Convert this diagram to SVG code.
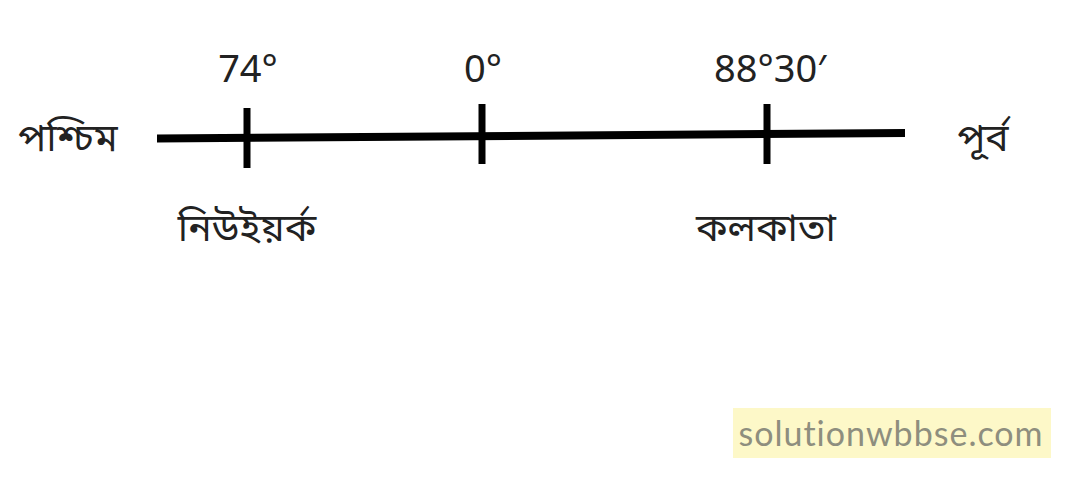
<svg xmlns="http://www.w3.org/2000/svg" width="1070" height="482" viewBox="0 0 1070 482">
<style>
.lbl{font-family:"Noto Sans","Open Sans","Liberation Sans",sans-serif;font-size:38px;fill:#222;text-anchor:middle}
.bn{font-family:"Noto Sans Bengali","Noto Serif Bengali","Lohit Bengali","Noto Sans",sans-serif;font-size:39px;fill:#222;text-anchor:middle}
.tick{stroke:#000;stroke-width:7}
</style>
<rect width="1070" height="482" fill="#fff"/>
<g id="connectors">
<line x1="157" y1="138.5" x2="905" y2="133" stroke="#000" stroke-width="8"/>
<line class="tick" x1="247" y1="108" x2="247" y2="168"/>
<line class="tick" x1="482" y1="104" x2="482" y2="164"/>
<line class="tick" x1="767" y1="104" x2="767" y2="164"/>
</g>
<g id="west"><text class="bn" x="68" y="151">পশ্চিম</text></g>
<g id="east"><text class="bn" x="983" y="151">পূর্ব</text></g>
<g id="l74"><text class="lbl" x="248" y="82">74°</text></g>
<g id="l0"><text class="lbl" x="483" y="82">0°</text></g>
<g id="l88"><text class="lbl" x="770" y="82">88°30′</text></g>
<g id="newyork"><text class="bn" x="247" y="241">নিউইয়র্ক</text></g>
<g id="kolkata"><text class="bn" x="766" y="241">কলকাতা</text></g>
<g id="watermark">
<rect x="733" y="408" width="318" height="50" fill="#fdf8c8"/>
<text x="891" y="446" font-family="Lato,'Open Sans',sans-serif" font-size="34" letter-spacing="1" fill="#8e8e7e" text-anchor="middle">solutionwbbse.com</text>
</g>
</svg>
